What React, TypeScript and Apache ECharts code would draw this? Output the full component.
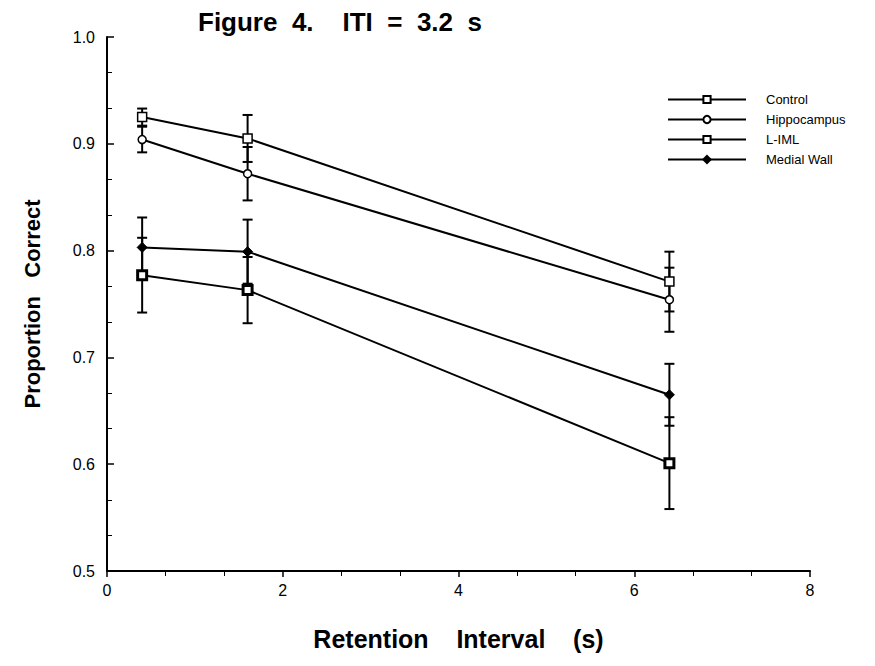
import React, { useEffect, useRef } from "react";
import * as echarts from "echarts";

const intervals = [0.4, 1.6, 6.4];
const seriesNames = ["Control", "Hippocampus", "L-IML", "Medial Wall"];
const controlMean = [0.925, 0.905, 0.771];
const controlErr = [0.008, 0.022, 0.028];
const hippoMean = [0.904, 0.872, 0.754];
const hippoErr = [0.012, 0.025, 0.03];
const limlMean = [0.777, 0.763, 0.601];
const limlErr = [0.035, 0.031, 0.043];
const medialMean = [0.803, 0.799, 0.665];
const medialErr = [0.028, 0.03, 0.029];
const xTicks = [0, 2, 4, 6, 8];
const yTicks = [0.5, 0.6, 0.7, 0.8, 0.9, 1.0];

const FONT = "'Liberation Sans', Arial, Helvetica, sans-serif";

export default function App() {
  const ref = useRef<HTMLDivElement>(null);
  useEffect(() => {
    if (!ref.current) return;
    const chart = echarts.init(ref.current, null, { renderer: "svg" });
    const means = [controlMean, hippoMean, limlMean, medialMean];
    const errs = [controlErr, hippoErr, limlErr, medialErr];
    const symbols = [
      { symbol: "rect", size: 9, fill: "#fff", border: 1.5 },
      { symbol: "circle", size: 8, fill: "#fff", border: 1.5 },
      { symbol: "rect", size: 9, fill: "#fff", border: 3 },
      { symbol: "diamond", size: 10, fill: "#000", border: 1 },
    ];
    const lineSeries = seriesNames.map((name, i) => ({
      name,
      type: "line",
      data: intervals.map((x, j) => [x, means[i][j]]),
      symbol: symbols[i].symbol,
      symbolSize: symbols[i].size,
      itemStyle: { color: symbols[i].fill, borderColor: "#000", borderWidth: symbols[i].border },
      lineStyle: { color: "#000", width: 2 },
      z: 5,
    }));
    const errSeries = seriesNames.map((name, i) => ({
      name: name + " err",
      type: "custom",
      data: intervals.map((x, j) => [x, means[i][j] - errs[i][j], means[i][j] + errs[i][j]]),
      renderItem: (params: any, api: any) => {
        const lo = api.coord([api.value(0), api.value(1)]);
        const hi = api.coord([api.value(0), api.value(2)]);
        const hw = 5;
        const style = { stroke: "#000", lineWidth: 2 };
        return {
          type: "group",
          children: [
            { type: "line", shape: { x1: lo[0], y1: lo[1], x2: hi[0], y2: hi[1] }, style },
            { type: "line", shape: { x1: lo[0] - hw, y1: lo[1], x2: lo[0] + hw, y2: lo[1] }, style },
            { type: "line", shape: { x1: hi[0] - hw, y1: hi[1], x2: hi[0] + hw, y2: hi[1] }, style },
          ],
        };
      },
      z: 3,
    }));
    chart.setOption({
      animation: false,
      backgroundColor: "#fff",
      textStyle: { fontFamily: FONT, color: "#000" },
      title: {
        text: "Figure  4.    ITI  =  3.2  s",
        left: 193,
        top: 4,
        textStyle: { fontFamily: FONT, fontSize: 26, fontWeight: "bold", color: "#000" },
      },
      legend: {
        data: seriesNames,
        orient: "vertical",
        left: 662,
        top: 88,
        itemWidth: 78,
        itemHeight: 9,
        itemGap: 7,
        textStyle: { fontFamily: FONT, fontSize: 13, color: "#000", padding: [0, 0, 0, 15] },
      },
      grid: { left: 107, right: 65, top: 37, bottom: 95 },
      xAxis: {
        type: "value",
        min: xTicks[0],
        max: xTicks[xTicks.length - 1],
        interval: 2,
        name: "Retention    Interval    (s)",
        nameLocation: "middle",
        nameGap: 55,
        nameTextStyle: { fontFamily: FONT, fontSize: 25, fontWeight: "bold", color: "#000" },
        axisLine: { lineStyle: { color: "#000", width: 2 } },
        axisTick: { show: true, inside: false, length: 6, lineStyle: { color: "#000", width: 1.5 } },
        minorTick: { show: true, splitNumber: 3, length: 5, lineStyle: { color: "#000", width: 1 } },
        axisLabel: { fontFamily: FONT, fontSize: 16, color: "#000", margin: 11 },
        splitLine: { show: false },
      },
      yAxis: {
        type: "value",
        min: yTicks[0],
        max: yTicks[yTicks.length - 1],
        interval: 0.1,
        name: "Proportion   Correct",
        nameLocation: "middle",
        nameGap: 64,
        nameRotate: 90,
        nameTextStyle: { fontFamily: FONT, fontSize: 22, fontWeight: "bold", color: "#000" },
        axisLine: { show: true, lineStyle: { color: "#000", width: 2 } },
        axisTick: { show: true, inside: true, length: 7, lineStyle: { color: "#000", width: 1.5 } },
        minorTick: { show: true, splitNumber: 3, length: 5, lineStyle: { color: "#000", width: 1 } },
        axisLabel: {
          fontFamily: FONT,
          fontSize: 16,
          color: "#000",
          margin: 12,
          formatter: (v: number) => v.toFixed(1),
        },
        splitLine: { show: false },
      },
      series: [...errSeries, ...lineSeries],
    });
    return () => chart.dispose();
  }, []);
  return <div ref={ref} style={{ width: 875, height: 666, position: "absolute", left: 0, top: 0 }} />;
}
